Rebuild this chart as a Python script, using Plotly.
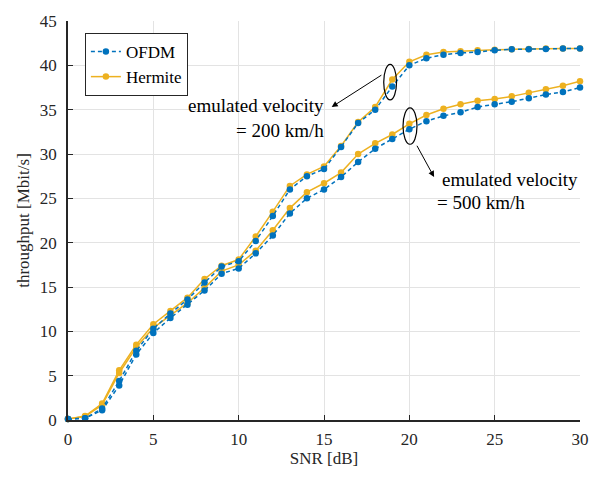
import plotly.graph_objects as go

snr = list(range(31))
ofdm_200 = [0.1, 0.2, 1.3, 4.4, 7.8, 10.3, 12.0, 13.6, 15.5, 17.3, 17.9, 20.2, 23.0, 26.0, 27.5, 28.3,
            30.8, 33.5, 35.0, 37.6, 40.0, 40.8, 41.2, 41.4, 41.5, 41.7, 41.8, 41.8, 41.85, 41.9, 41.9]
herm_200 = [0.1, 0.45, 1.85, 5.6, 8.5, 10.8, 12.3, 13.8, 15.9, 17.4, 18.1, 20.7, 23.5, 26.4, 27.7, 28.6,
            30.9, 33.6, 35.3, 38.4, 40.4, 41.2, 41.5, 41.6, 41.7, 41.75, 41.8, 41.85, 41.9, 41.9, 41.9]
ofdm_500 = [0.1, 0.2, 1.1, 3.9, 7.4, 9.8, 11.5, 13.0, 14.6, 16.5, 17.1, 18.8, 20.8, 23.3, 25.0, 26.0,
            27.4, 29.1, 30.6, 31.7, 32.8, 33.7, 34.3, 34.7, 35.3, 35.6, 35.9, 36.3, 36.7, 37.0, 37.5]
herm_500 = [0.1, 0.4, 1.7, 5.3, 8.2, 10.4, 11.8, 13.2, 14.9, 16.8, 17.5, 19.1, 21.4, 23.9, 25.7, 26.7,
            27.9, 30.0, 31.2, 32.2, 33.4, 34.4, 35.1, 35.6, 36.0, 36.2, 36.5, 36.9, 37.3, 37.7, 38.2]

x_ticks = [0, 5, 10, 15, 20, 25, 30]
y_ticks = [0, 5, 10, 15, 20, 25, 30, 35, 40, 45]

BLUE = "#0072BD"
GOLD = "#EDB120"
FONT = "Liberation Serif, Times New Roman, Times, serif"
DARK = "#262626"

fig = go.Figure()

def add(y, name, color, dash, show, rank):
    fig.add_trace(go.Scatter(
        x=snr, y=y, name=name, mode="lines+markers",
        line=dict(color=color, width=1.5, dash=dash),
        marker=dict(color=color, size=6.5, symbol="circle"),
        showlegend=show, legendrank=rank, cliponaxis=False))

add(herm_200, "Hermite", GOLD, "solid", True, 2)
add(herm_500, "Hermite", GOLD, "solid", False, 4)
add(ofdm_200, "OFDM", BLUE, "4px,3px", True, 1)
add(ofdm_500, "OFDM", BLUE, "4px,3px", False, 3)

axis_common = dict(
    showline=True, linecolor=DARK, linewidth=1.5, mirror=False,
    ticks="inside", ticklen=5, tickwidth=1, tickcolor=DARK,
    showgrid=True, gridcolor="#e3e3e3", gridwidth=1, zeroline=False,
    tickfont=dict(family=FONT, size=17, color=DARK),
)

fig.update_xaxes(range=[0, 30], tickvals=x_ticks, ticktext=[str(v) for v in x_ticks],
                 title=dict(text="SNR [dB]", font=dict(family=FONT, size=17, color=DARK), standoff=4),
                 ticklabelstandoff=3, **axis_common)
fig.update_yaxes(range=[0, 45], tickvals=y_ticks, ticktext=[str(v) for v in y_ticks],
                 title=dict(text="throughput [Mbit/s]", font=dict(family=FONT, size=17, color=DARK), standoff=6),
                 ticklabelstandoff=6, **axis_common)

# ellipses marking the curve pairs
fig.add_shape(type="circle", xref="x", yref="y", x0=18.5, x1=19.25, y0=36.1, y1=40.1,
              line=dict(color="black", width=1.2))
fig.add_shape(type="circle", xref="x", yref="y", x0=19.63, x1=20.45, y0=31.1, y1=35.2,
              line=dict(color="black", width=1.2))

# arrows
fig.add_annotation(x=15.45, y=35.3, ax=18.45, ay=39.0, xref="x", yref="y", axref="x", ayref="y",
                   text="", showarrow=True, arrowhead=2, arrowsize=1.2, arrowwidth=1, arrowcolor="black")
fig.add_annotation(x=21.45, y=27.4, ax=20.4, ay=31.1, xref="x", yref="y", axref="x", ayref="y",
                   text="", showarrow=True, arrowhead=2, arrowsize=1.2, arrowwidth=1, arrowcolor="black")

tfont = dict(family=FONT, size=19, color="black")
fig.add_annotation(x=15.1, y=35.44, xref="x", yref="y", text="emulated velocity", showarrow=False,
                   xanchor="right", yanchor="middle", font=tfont)
fig.add_annotation(x=15.1, y=32.67, xref="x", yref="y", text="= 200 km/h", showarrow=False,
                   xanchor="right", yanchor="middle", font=tfont)
fig.add_annotation(x=21.8, y=27.1, xref="x", yref="y", text="emulated velocity", showarrow=False,
                   xanchor="left", yanchor="middle", font=tfont)
fig.add_annotation(x=21.51, y=24.56, xref="x", yref="y", text="= 500 km/h", showarrow=False,
                   xanchor="left", yanchor="middle", font=tfont)

fig.update_layout(
    width=601, height=478,
    margin=dict(l=68, r=17, t=15, b=58),
    paper_bgcolor="white", plot_bgcolor="white",
    font=dict(family=FONT, size=17, color=DARK),
    legend=dict(x=0.033, y=0.97, xanchor="left", yanchor="top",
                bgcolor="white", bordercolor=DARK, borderwidth=1,
                font=dict(family=FONT, size=17, color="black"),
                tracegroupgap=0, itemwidth=30),
)

fig.write_html("out.html", config={"displayModeBar": False},
               post_script="document.body.style.margin='0';document.body.style.overflow='hidden';")
